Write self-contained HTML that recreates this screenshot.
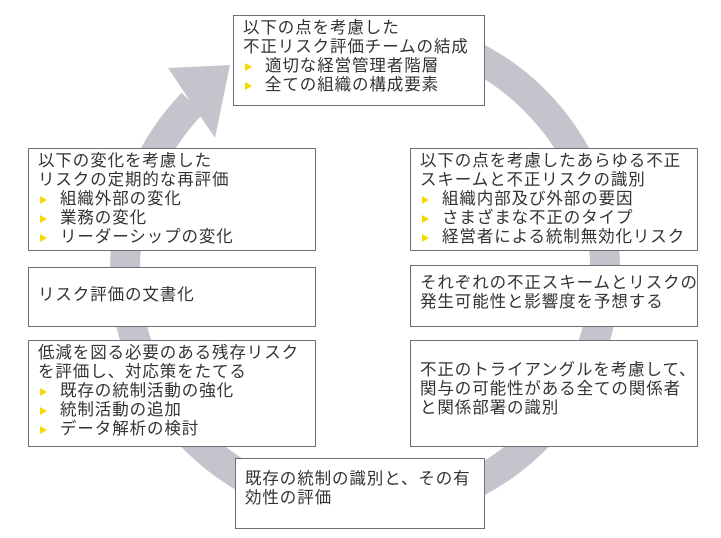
<!DOCTYPE html>
<html><head><meta charset="utf-8"><style>
body{margin:0;width:721px;height:538px;background:#fff;position:relative;overflow:hidden;font-family:"Liberation Sans","Noto Sans CJK JP",sans-serif;}
.b{position:absolute;box-sizing:border-box;border:1px solid #6e6e78;background:#fff;font-size:16.5px;letter-spacing:0.9px;line-height:19px;color:#333;padding:3px 0 0 9px;white-space:nowrap;}
.li{position:relative;padding-left:22px;}
.li:before{content:"";position:absolute;left:2px;top:6px;border-left:7px solid #f5d800;border-top:4px solid transparent;border-bottom:4px solid transparent;}
svg{position:absolute;left:0;top:0;}
</style></head><body>
<svg width="721" height="538">
<path d="M 323.3 33.6 A 240 240 0 1 1 192.4 103.2" fill="none" stroke="#c4c5cc" stroke-width="30"/>
<polygon points="168,68 230,65 215,138" fill="#c4c5cc"/>
</svg>
<div class="b" style="left:233px;top:15px;width:252px;height:91px;">以下の点を考慮した<br>不正リスク評価チームの結成<div class="li">適切な経営管理者階層</div><div class="li">全ての組織の構成要素</div></div>
<div class="b" style="left:28px;top:148px;width:288px;height:103px;">以下の変化を考慮した<br>リスクの定期的な再評価<div class="li">組織外部の変化</div><div class="li">業務の変化</div><div class="li">リーダーシップの変化</div></div>
<div class="b" style="left:28px;top:267px;width:288px;height:60px;padding-top:18px;">リスク評価の文書化</div>
<div class="b" style="left:28px;top:340px;width:288px;height:107px;">低減を図る必要のある残存リスク<br>を評価し、対応策をたてる<div class="li">既存の統制活動の強化</div><div class="li">統制活動の追加</div><div class="li">データ解析の検討</div></div>
<div class="b" style="left:410px;top:148px;width:288px;height:103px;">以下の点を考慮したあらゆる不正<br>スキームと不正リスクの識別<div class="li">組織内部及び外部の要因</div><div class="li">さまざまな不正のタイプ</div><div class="li">経営者による統制無効化リスク</div></div>
<div class="b" style="left:410px;top:265px;width:288px;height:62px;padding-top:8px;">それぞれの不正スキームとリスクの<br>発生可能性と影響度を予想する</div>
<div class="b" style="left:410px;top:340px;width:288px;height:107px;padding-top:20px;">不正のトライアングルを考慮して、<br>関与の可能性がある全ての関係者<br>と関係部署の識別</div>
<div class="b" style="left:235px;top:458px;width:250px;height:71px;padding-top:11px;">既存の統制の識別と、その有<br>効性の評価</div>
</body></html>
